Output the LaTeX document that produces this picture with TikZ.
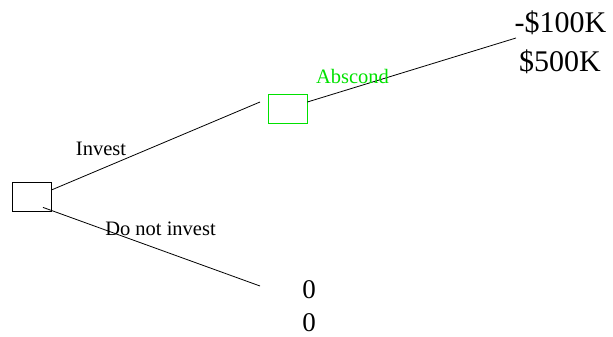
\documentclass[tikz,border=0pt]{standalone}
\usepackage{fontspec}
\setmainfont{Liberation Serif}
\usetikzlibrary{positioning}
\definecolor{figgreen}{RGB}{0,225,0}

\begin{document}
\begin{tikzpicture}[x=1pt,y=-1pt,line width=0.8pt,
    decision/.style={draw,rectangle,minimum width=39pt,minimum height=29pt,inner sep=0pt},
    chance/.style={decision,draw=figgreen},
    branch/.style={font=\fontsize{20.5}{24}\selectfont,anchor=base,inner sep=0pt},
    payoff/.style={font=\fontsize{30}{34}\selectfont,anchor=base,inner sep=0pt}]
  \useasboundingbox (0,0) rectangle (613,337);
  % ---- decision and chance boxes ----
  \node[decision] (root) at (31.5,196.5) {};
  \node[chance]   (absc) at (287.5,108.5) {};
  % free ends of the branches
  \coordinate (investend) at (260,102);
  \coordinate (noinvend)  at (260,286);
  \coordinate (abscend)   at (516,38);
  % ---- branches ----
  \draw ([yshift=6.5pt]root.east) -- (investend);
  \draw ([xshift=11.5pt,yshift=4pt]root.south) -- (noinvend);
  \draw ([yshift=6.5pt]absc.east) -- (abscend);
  % branch labels
  \node[branch] (investlbl) at (101,155) {Invest};
  \node[branch] (noinvlbl)  at (160.5,235) {Do not invest};
  \node[branch,text=figgreen] (absclbl) at (352.5,83) {Abscond};
  % ---- payoffs ----
  \node[payoff] (lossval) at (560.5,33) {-\$100K};
  \node[payoff] (gainval) at (560,72) {\$500K};
  \node[payoff,font=\fontsize{27}{32}\selectfont] (zeroa) at (309,298.5) {0};
  \node[payoff,font=\fontsize{27}{32}\selectfont] (zerob) at (309,331.5) {0};
\end{tikzpicture}
\end{document}
